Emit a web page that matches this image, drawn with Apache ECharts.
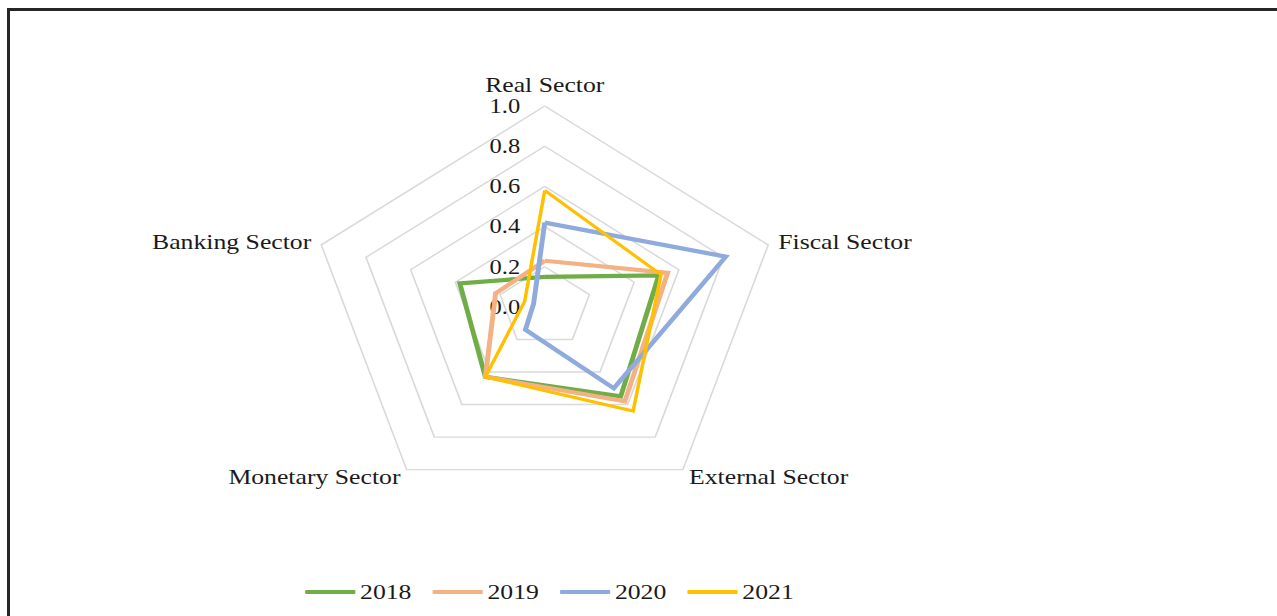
<!DOCTYPE html>
<html>
<head>
<meta charset="utf-8">
<script src="https://cdn.jsdelivr.net/npm/echarts@6/dist/echarts.min.js"></script>
<style>
  html, body { margin: 0; padding: 0; background: #ffffff; overflow: hidden; width: 1277px; height: 616px; }
  #chart { position: absolute; left: 0; top: 0; width: 1093px; height: 616px; transform: scaleX(1.169); transform-origin: 0 0; }
  #frame { position: absolute; left: 7px; top: 8px; width: 1300px; height: 700px; border: 3px solid #262626; box-sizing: border-box; pointer-events: none; }
</style>
</head>
<body>
<div id="chart"></div>
<div id="frame"></div>
<script>
// Categories in the reference's clockwise order, starting at the top
const categories = ['Real Sector', 'Fiscal Sector', 'External Sector', 'Monetary Sector', 'Banking Sector'];
const years = ['2018', '2019', '2020', '2021'];
const values2018 = [0.15, 0.51, 0.55, 0.43, 0.38];
const values2019 = [0.23, 0.55, 0.58, 0.43, 0.22];
const values2020 = [0.42, 0.81, 0.50, 0.14, 0.05];
const values2021 = [0.58, 0.52, 0.64, 0.43, 0.09];
const axisMax = 1.0;
const axisMin = 0.0;

const colors = ['#70AD47', '#F4B183', '#8FAADC', '#FFC000'];
const widths = [4.2, 4.2, 4.2, 3];
const seriesValues = [values2018, values2019, values2020, values2021];

// ECharts places indicators counter-clockwise; reorder to draw clockwise
const order = [0, 4, 3, 2, 1];
const font = '"Liberation Serif", "Times New Roman", serif';
const textColor = '#1a1a1a';

const indicator = order.map((i, k) => {
  const ind = { name: categories[i], max: axisMax, min: axisMin };
  if (k === 0) ind.axisLabel = { show: true };
  return ind;
});

const chart = echarts.init(document.getElementById('chart'), null, { renderer: 'svg' });
chart.setOption({
  animation: false,
  backgroundColor: '#ffffff',
  color: colors,
  legend: {
    left: 256,
    top: 576,
    itemWidth: 43,
    itemHeight: 4,
    itemGap: 18,
    icon: 'roundRect',
    textStyle: { fontFamily: font, fontSize: 22, color: textColor, padding: [0, 0, 0, -1] },
    data: years
  },
  radar: {
    center: [466, 307],
    radius: 201,
    startAngle: 90,
    shape: 'polygon',
    splitNumber: 5,
    indicator: indicator,
    axisName: { color: textColor, fontFamily: font, fontSize: 22 },
    nameGap: 9,
    axisLine: { show: false },
    axisTick: { show: false },
    splitArea: { show: false },
    splitLine: { lineStyle: { color: '#d9d9d9', width: 1.4 } },
    axisLabel: {
      show: false,
      margin: 21,
      fontFamily: font,
      fontSize: 21,
      color: textColor,
      formatter: v => Number(v).toFixed(1)
    }
  },
  series: [{
    type: 'radar',
    symbol: 'none',
    data: years.map((y, s) => ({
      name: y,
      value: order.map(i => seriesValues[s][i]),
      lineStyle: { color: colors[s], width: widths[s], join: 'miter' },
      itemStyle: { color: colors[s] }
    }))
  }]
});
</script>
</body>
</html>
